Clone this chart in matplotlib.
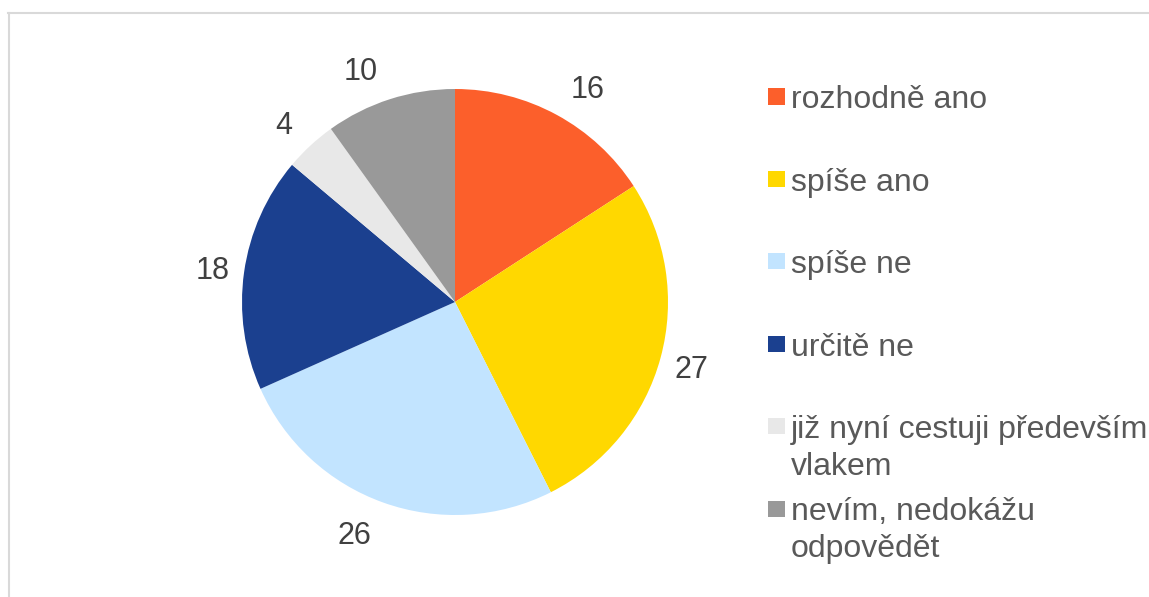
import numpy as np
import matplotlib.pyplot as plt
from matplotlib.lines import Line2D
from matplotlib.patches import Rectangle

plt.rcParams['font.family'] = ['Liberation Sans', 'DejaVu Sans']

labels = ['rozhodně ano', 'spíše ano', 'spíše ne', 'určitě ne',
          'již nyní cestuji především\nvlakem', 'nevím, nedokážu\nodpovědět']
values = [16, 27, 26, 18, 4, 10]
colors = ['#FC5F2B', '#FFD800', '#C2E4FF', '#1B408F', '#E8E8E8', '#999999']

fig = plt.figure(figsize=(11.49, 5.97), dpi=100)

# light frame (top and left edge only visible in the original crop)
fig.add_artist(Line2D([8 / 1149, 1], [1 - 13 / 597, 1 - 13 / 597],
                      color='#D9D9D9', lw=1.5, transform=fig.transFigure))
fig.add_artist(Line2D([8.5 / 1149, 8.5 / 1149], [0, 1 - 13 / 597],
                      color='#D9D9D9', lw=1.5, transform=fig.transFigure))

ax = fig.add_axes([242 / 1149, 82 / 597, 426 / 1149, 426 / 597])
wedges, _ = ax.pie(values, colors=colors, startangle=90, counterclock=False,
                   wedgeprops=dict(linewidth=0))

# data labels outside the slices, pushed sideways a bit near the top/bottom
for w, v in zip(wedges, values):
    ang = np.deg2rad((w.theta1 + w.theta2) / 2)
    dx, dy = np.cos(ang), np.sin(ang)
    txt_w = 16 * len(str(v))
    shift = np.sign(dx) * 0.7 * txt_w * abs(dy) ** 3
    ax.annotate(str(v), xy=(1.15 * dx, 1.15 * dy), xytext=(shift, 0),
                textcoords='offset pixels', ha='center', va='center_baseline',
                fontsize=22, color='#404040', annotation_clip=False)
ax.set_xlim(-1, 1)
ax.set_ylim(-1, 1)
ax.set_aspect('equal')
ax.axis('off')

# legend drawn by hand so the rows keep even spacing like the original
row_top = 108.5
step = 82.4
for i, (lab, col) in enumerate(zip(labels, colors)):
    base = row_top + i * step
    fig.add_artist(Rectangle((768 / 1149, 1 - (base - 4) / 597), 17 / 1149, 16 / 597,
                             transform=fig.transFigure, facecolor=col, edgecolor='none'))
    fig.text(791 / 1149, 1 - (base - 23) / 597, lab, fontsize=23, color='#595959',
             ha='left', va='top', linespacing=1.29)

fig.savefig('out.png', dpi=100)
